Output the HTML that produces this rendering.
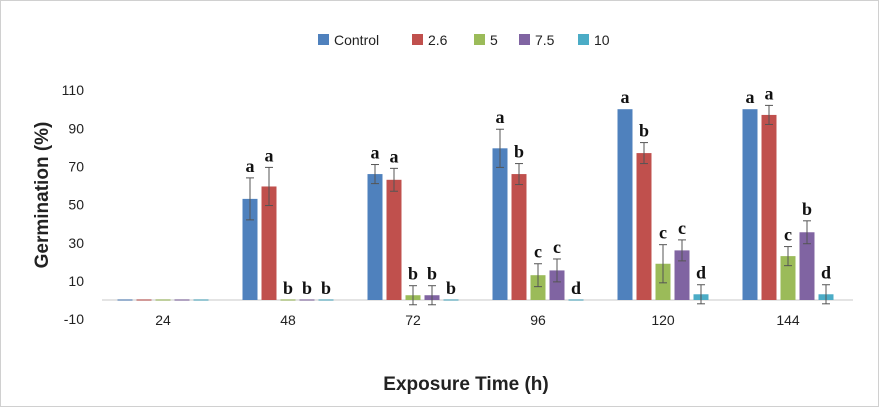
<!DOCTYPE html>
<html><head><meta charset="utf-8"><style>
body{margin:0;background:#fff;}
svg{display:block;font-family:"Liberation Sans",sans-serif;}
</style></head><body>
<svg id="c" width="881" height="409">
<rect x="0.5" y="0.5" width="878" height="406" fill="#fff" stroke="#d0d0d0"/>
<g id="legend"></g>
<g id="axis"></g>
<g id="bars"></g>
<text x="0" y="0" transform="translate(48,195) rotate(-90)" text-anchor="middle" font-size="19" font-weight="bold" fill="#222">Germination (%)</text>
<text x="466" y="390" text-anchor="middle" font-size="19" font-weight="bold" fill="#222">Exposure Time (h)</text>
</svg>
<script>
const categories=["24","48","72","96","120","144"];
const seriesNames=["Control","2.6","5","7.5","10"];
const colors=["#4f81bd","#c0504d","#9bbb59","#8064a2","#4bacc6"];
const control=[0,53,66,79.5,100,100];
const s26=[0,59.5,63,66,77,97];
const s5=[0,0,2.5,13,19,23];
const s75=[0,0,2.5,15.5,26,35.5];
const s10=[0,0,0,0,3,3];
const errControl=[0,11,5,10,0,0];
const err26=[0,10,6,5.5,5.5,5];
const err5=[0,0,5,6,10,5];
const err75=[0,0,5,6,5.5,6];
const err10=[0,0,0,0,5,5];
const letControl=["","a","a","a","a","a"];
const let26=["","a","a","b","b","a"];
const let5=["","b","b","c","c","c"];
const let75=["","b","b","c","c","b"];
const let10=["","b","b","d","d","d"];
const yTicks=[-10,10,30,50,70,90,110];
const series=[control,s26,s5,s75,s10];
const errs=[errControl,err26,err5,err75,err10];
const lets=[letControl,let26,let5,let75,let10];
const NS="http://www.w3.org/2000/svg";
function y(v){return 300-v*1.908;}
function xc(i){return 163+i*125;}
function mk(t,a,p){const e=document.createElementNS(NS,t);for(const k in a)e.setAttribute(k,a[k]);p.appendChild(e);return e;}
const ax=document.getElementById('axis');
yTicks.forEach(t=>{const e=mk('text',{x:84,y:y(t)+5,'text-anchor':'end','font-size':14,fill:'#222'},ax);e.textContent=t;

});
const base=mk('line',{x1:102,x2:853,y1:y(0),y2:y(0),stroke:'#c8c8c8','stroke-width':1},ax);


categories.forEach((c,i)=>{const e=mk('text',{x:xc(i),y:y(-10)+6,'text-anchor':'middle','font-size':14,fill:'#222'},ax);e.textContent=c;

});
const bg=document.getElementById('bars');
series.forEach((s,k)=>{s.forEach((v,i)=>{
 const cx=xc(i)+(k-2)*19;
 const h=Math.max(Math.abs(y(v)-y(0)),v===0?1.5:0);
 const r=mk('rect',{x:cx-7.5,y:v===0?y(0)-1:y(v),width:15,height:v===0?2:h,fill:colors[k],opacity:v===0?0.5:1},bg);
 
 
 const er=errs[k][i];
 if(er>0){const g=mk('g',{stroke:'#555','stroke-width':1},bg);
  mk('line',{x1:cx,x2:cx,y1:y(v+er),y2:y(v-er)},g);
  mk('line',{x1:cx-4,x2:cx+4,y1:y(v+er),y2:y(v+er)},g);
  mk('line',{x1:cx-4,x2:cx+4,y1:y(v-er),y2:y(v-er)},g);
  
  }
 const l=lets[k][i];
 if(l){const t=mk('text',{x:cx,y:y(v+er)-6,'text-anchor':'middle','font-size':18,'font-weight':'bold',fill:'#111','font-family':'Liberation Serif, serif'},bg);t.textContent=l;
  
  }
});});
const lg=document.getElementById('legend');
const lx=[318,412,474,519,578];
seriesNames.forEach((n,k)=>{const g=mk('g',{},lg);
 
 
 mk('rect',{x:lx[k],y:34,width:11,height:11,fill:colors[k]},g);
 const t=mk('text',{x:lx[k]+16,y:45,'font-size':14,fill:'#222'},g);t.textContent=n;});
</script>
</body></html>
